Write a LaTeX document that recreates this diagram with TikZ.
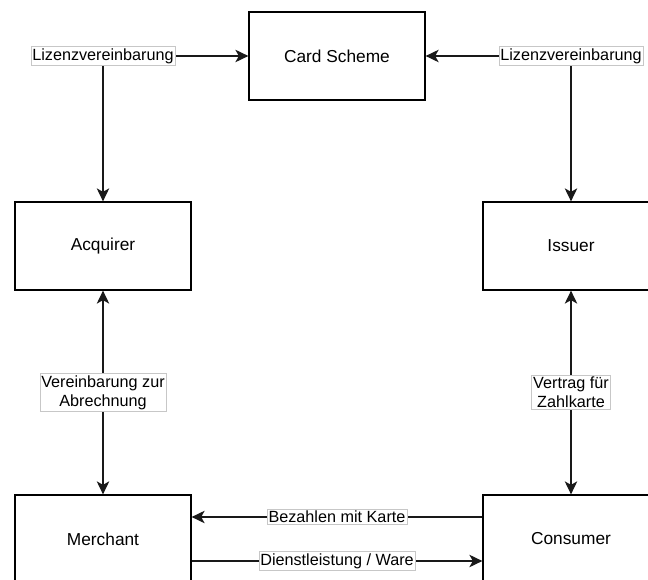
\documentclass[tikz,border=0pt]{standalone}
\usepackage{fontspec}
\setmainfont{Liberation Sans}
\usetikzlibrary{arrows.meta}
\begin{document}
\begin{tikzpicture}[x=1pt,y=-1pt,
  party/.style={draw=black, line width=1.3pt, fill=white, minimum width=176pt,
    minimum height=88pt, inner sep=0pt, font=\fontsize{17.3}{20}\selectfont},
  link/.style={line width=1.3pt, draw=black!90},
  head/.style={Stealth[length=13pt,width=12.5pt,inset=3.5pt]},
  tip/.style={-{Stealth[length=13pt,width=12.5pt,inset=3.5pt]}},
  twotips/.style={{Stealth[length=13pt,width=12.5pt,inset=3.5pt]}-{Stealth[length=13pt,width=12.5pt,inset=3.5pt]}},
  tag/.style={draw=black!22, line width=0.6pt, fill=white, inner xsep=1.5pt,
    inner ysep=1.8pt, align=center, font=\fontsize{16.2}{19}\selectfont}]
  \useasboundingbox (0,0) rectangle (648,580);
  \clip (0,0) rectangle (648,580);

  % parties
  \node[party] (cs)   at (337,56)  {Card Scheme};
  \node[party] (acq)  at (103,246) {Acquirer};
  \node[party] (iss)  at (571,246) {Issuer};
  \node[party] (mer)  at (103,539) {Merchant};
  \node[party] (con)  at (571,539) {Consumer};

  % licence agreements with the card scheme
  \draw[link,twotips] (acq.north) |- node[tag,pos=0.5] {Lizenzvereinbarung} (cs.west);
  \draw[link,twotips] (iss.north) |- node[tag,pos=0.5] {Lizenzvereinbarung} (cs.east);

  % contracts on the two sides
  \draw[link,twotips] (acq.south) -- node[tag] {Vereinbarung zur\\Abrechnung} (mer.north);
  \draw[link,twotips] (iss.south) -- node[tag] {Vertrag für\\Zahlkarte} (con.north);

  % payment and goods
  \draw[link,tip] ([yshift=22pt]con.west) -- node[tag] {Bezahlen mit Karte} ([yshift=22pt]mer.east);
  \draw[link,tip] ([yshift=-22pt]mer.east) -- node[tag] {Dienstleistung / Ware} ([yshift=-22pt]con.west);
\end{tikzpicture}
\end{document}
